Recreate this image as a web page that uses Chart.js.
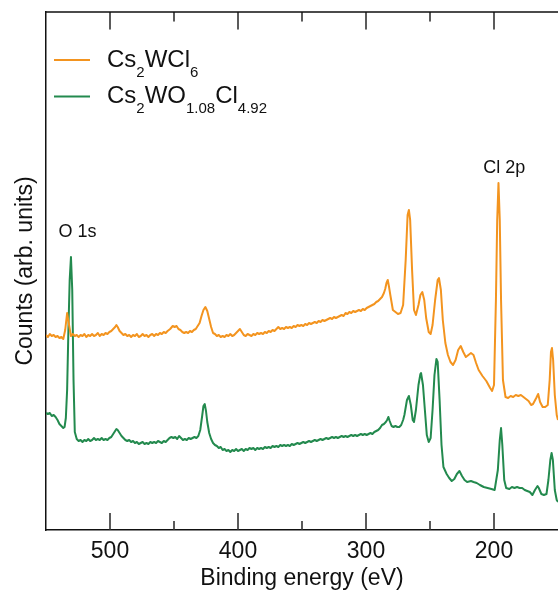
<!DOCTYPE html>
<html>
<head>
<meta charset="utf-8">
<script src="https://cdn.jsdelivr.net/npm/chart.js@4"></script>
</head>
<body style="margin:0; background:#fff">
<canvas id="c" width="558" height="592"></canvas>
<script>
// --- survey spectra: [binding energy (eV), counts (arb. units)] ---
const spectrumWCl6 = [
  [550,195],[548.5,193],[547,196],[545.5,194],[544,195],[542.5,193],[541,194],[539.5,192],[538,193],[536.5,191],
  [535,200],[533.5,217],[532,205],[530.5,194],[529,196],[527.5,194],[526,195],[524.5,193],[523,195],[521.5,194],
  [520,196],[518.5,193],[517,195],[515.5,194],[514,196],[512.5,194],[511,195],[509.5,197],[508,194],[506.5,196],
  [505,195],[503.5,197],[502,196],[500.5,198],[499,199],[497.5,201],[496,203],[495,205],[494,203],[492.5,199],
  [491,197],[489.5,195],[488,196],[486.5,194],[485,195],[483.5,193],[482,195],[480.5,194],[479,196],[477.5,193],
  [476,194],[474.5,196],[473,194],[471.5,195],[470,193],[468.5,195],[467,196],[465.5,194],[464,196],[462.5,195],
  [461,197],[459.5,196],[458,198],[456.5,197],[455,199],[453,201],[451,204],[449.5,203],[448,204],[446.5,201],
  [445,200],[443.5,198],[442,197],[440.5,198],[439,197],[437.5,199],[436,198],[434.5,200],[433,201],[431.5,204],
  [430,207],[428.5,214],[427,220],[425.5,223],[424,219],[422.5,211],[421,203],[419.5,197],[418,196],[416.5,194],
  [415,195],[413.5,193],[412,194],[410.5,193],[409,195],[407.5,194],[406,196],[404.5,194],[403,195],[401.5,197],
  [400,199],[398.5,201],[397,198],[395.5,195],[394,194],[392.5,196],[391,195],[389.5,194],[388,196],[386.5,195],
  [385,197],[383.5,196],[382,197],[380.5,196],[379,198],[377.5,197],[376,199],[374.5,198],[373,200],[371.5,199],
  [370,201],[368.5,203],[367,201],[365.5,202],[364,201],[362.5,203],[361,202],[359.5,203],[358,202],[356.5,204],
  [355,203],[353.5,205],[352,204],[350.5,205],[349,204],[347.5,206],[346,205],[344.5,207],[343,206],[341.5,207],
  [340,208],[338.5,207],[337,209],[335.5,208],[334,210],[332.5,209],[331,210],[329.5,211],[328,212],[326.5,211],
  [325,213],[323.5,212],[322,213],[320.5,214],[319,215],[317.5,214],[316,217],[314.5,216],[313,218],[311.5,217],
  [310,219],[308.5,218],[307,219],[305.5,220],[304,219],[302.5,221],[301,220],[299.5,222],[298,223],[296.5,224],
  [295,225],[293.5,226],[292,228],[290.5,229],[289,231],[287.5,233],[286,237],[285,241],[284,247],[283,250],
  [282,243],[281,235],[279,220],[277,218],[275,216],[273,217],[271,225],[269,270],[267.5,315],[266.5,320],
  [265.5,310],[264,260],[262.5,220],[261,215],[259,225],[257.5,235],[256,238],[254.5,230],[253,212],[251,198],
  [249.5,196],[248,205],[246,230],[244,250],[243,252],[241.5,240],[240,210],[238,187],[236,175],[234,168],
  [232,165],[230,170],[228,180],[226,184],[224,178],[222,173],[220,175],[218,177],[216,175],[214,167],
  [212,160],[209,154],[206,149],[203,142],[201.5,139],[200,145],[198.5,230],[197.5,310],[196.5,347],[195.5,310],
  [194.5,230],[193,150],[191,133],[189,132],[187,134],[185,133],[183,135],[181,134],[179,135],[177,133],
  [175,131],[173,129],[171,125],[169.5,126],[167,132],[165.5,136],[164,128],[162,123],[160,123],[158,125],
  [156.5,150],[155.5,178],[154.7,182],[153.8,170],[152.5,135],[151,115],[150,110]
];

const spectrumWOCl = [
  [550,117],[548.5,116],[547,117],[545.5,114],[544,115],[542.5,113],[541,110],[539.5,106],[538,104],[536.5,102],
  [535.5,103],[534.5,112],[533.5,140],[532.5,200],[531.5,250],[530.5,273],[529.5,240],[528.5,150],[527.5,98],[526,91],
  [524.5,89],[523,90],[521.5,88],[520,90],[518.5,89],[517,91],[515.5,89],[514,90],[512.5,92],[511,90],
  [509.5,91],[508,90],[506.5,92],[505,90],[503.5,91],[502,90],[500.5,92],[499,93],[497.5,96],[496,99],
  [495,101],[494,100],[492.5,97],[491,94],[489.5,92],[488,90],[486.5,89],[485,90],[483.5,88],[482,89],
  [480.5,87],[479,88],[477.5,86],[476,87],[474.5,88],[473,86],[471.5,87],[470,86],[468.5,88],[467,87],
  [465.5,88],[464,87],[462.5,89],[461,88],[459.5,87],[458,89],[456.5,88],[455,90],[453.5,92],[452,93],
  [450.5,92],[449,93],[447.5,91],[446,94],[444.5,92],[443,90],[441.5,91],[440,90],[438.5,92],[437,91],
  [435.5,92],[434,93],[432.5,92],[431,94],[429.5,100],[428,114],[427,124],[426,126],[425,119],[424,108],
  [422.5,97],[421,91],[419.5,87],[418,85],[416.5,84],[415,82],[413.5,83],[412,80],[410.5,81],[409,79],
  [407.5,80],[406,78],[404.5,80],[403,79],[401.5,81],[400,79],[398.5,80],[397,81],[395.5,79],[394,81],
  [392.5,80],[391,82],[389.5,81],[388,82],[386.5,80],[385,82],[383.5,81],[382,82],[380.5,81],[379,83],
  [377.5,82],[376,83],[374.5,82],[373,84],[371.5,83],[370,84],[368.5,83],[367,85],[365.5,84],[364,85],
  [362.5,84],[361,85],[359.5,84],[358,86],[356.5,85],[355,86],[353.5,87],[352,86],[350.5,87],[349,88],
  [347.5,87],[346,88],[344.5,89],[343,88],[341.5,89],[340,90],[338.5,89],[337,90],[335.5,91],[334,90],
  [332.5,91],[331,92],[329.5,91],[328,92],[326.5,93],[325,92],[323.5,93],[322,92],[320.5,93],[319,94],
  [317.5,93],[316,94],[314.5,93],[313,94],[311.5,95],[310,94],[308.5,95],[307,94],[305.5,95],[304,96],
  [302.5,95],[301,96],[299.5,95],[298,96],[296.5,97],[295,96],[293.5,98],[292,99],[290.5,100],[289,102],
  [287.5,105],[286,106],[284.5,108],[283.5,110],[282.5,113],[281.5,109],[280,104],[278.5,103],[277,104],[275.5,103],
  [274,103],[272.5,105],[271,110],[270,115],[268,130],[266.5,134],[265,125],[263.5,110],[262.5,108],[261,120],
  [259,145],[257.5,156],[257,157],[255.5,145],[254,120],[252.5,95],[251,88],[249.5,92],[248,120],[246.5,155],
  [245,171],[244,168],[242.5,130],[241,85],[239.5,63],[237,56],[235,52],[233,49],[231,51],[229,56],
  [227,59],[225,54],[223,50],[221,48],[218,49],[216,48],[213.5,47],[211,45],[208,43],[205,42],
  [202,41],[199.5,40],[197,60],[195.5,90],[194.5,102],[193.5,85],[192,50],[190.5,42],[188,41],[186,43],
  [184,42],[182,43],[180,42],[178,42],[176,40],[174,39],[172,38],[170,35],[168,40],[166,44],
  [165,42],[163,36],[161,35],[159,36],[157.5,50],[156,70],[155,77],[154,70],[152.5,40],[151,30],[150,28]
];

const seriesNames = [
  [['Cs', ''], ['2', 'sub'], ['WCl', ''], ['6', 'sub']],
  [['Cs', ''], ['2', 'sub'], ['WO', ''], ['1.08', 'sub'], ['Cl', ''], ['4.92', 'sub']]
];
const seriesColors = ['#f3941f', '#238a4e'];
const xTickLabels = [500, 400, 300, 200];
const xMinorTicks = [450, 350, 250];
// [text, energy of text centre, counts at text baseline]
const peakLabels = [['O 1s', 525.4, 293], ['Cl 2p', 192, 357]];

const FONT = '"Liberation Sans", Arial, Helvetica, sans-serif';
const Y_MAX = 518;

function toPoints(pairs) { return pairs.map(p => ({ x: p[0], y: p[1] })); }

// inward tick marks on the bottom and top axes, as broken line segments
function tickSegments(values, len) {
  const out = [];
  values.forEach(v => {
    out.push({ x: v, y: 0 }, { x: v, y: len }, { x: v, y: null });
    out.push({ x: v, y: Y_MAX }, { x: v, y: Y_MAX - len }, { x: v, y: null });
  });
  return out;
}

// top frame, legend with subscripts, peak labels
const decor = {
  id: 'decor',
  afterDraw(chart) {
    const ctx = chart.ctx, a = chart.chartArea;
    const sx = chart.scales.x, sy = chart.scales.y;
    ctx.save();
    ctx.fillStyle = '#111';
    ctx.fillRect(a.left, a.top - 0.75, a.right - a.left, 1.5);

    seriesNames.forEach((parts, i) => {
      const ly = 60 + i * 36.5;
      ctx.strokeStyle = seriesColors[i];
      ctx.lineWidth = 2;
      ctx.beginPath();
      ctx.moveTo(54, ly); ctx.lineTo(90, ly);
      ctx.stroke();
      let tx = 107;
      const base = ly + 6.5;
      ctx.fillStyle = '#111';
      ctx.textBaseline = 'alphabetic';
      ctx.textAlign = 'left';
      parts.forEach(([t, kind]) => {
        if (kind === 'sub') {
          ctx.font = '15px ' + FONT;
          ctx.fillText(t, tx, base + 10);
        } else {
          ctx.font = '24px ' + FONT;
          ctx.fillText(t, tx, base);
        }
        tx += ctx.measureText(t).width;
      });
    });

    ctx.font = '18px ' + FONT;
    ctx.fillStyle = '#111';
    ctx.textAlign = 'center';
    ctx.textBaseline = 'alphabetic';
    peakLabels.forEach(([t, e, v]) => {
      ctx.fillText(t, sx.getPixelForValue(e), sy.getPixelForValue(v));
    });
    ctx.restore();
  }
};

new Chart(document.getElementById('c'), {
  type: 'line',
  data: {
    datasets: [
      { label: 'Cs2WCl6', data: toPoints(spectrumWCl6), borderColor: seriesColors[0], borderWidth: 2 },
      { label: 'Cs2WO1.08Cl4.92', data: toPoints(spectrumWOCl), borderColor: seriesColors[1], borderWidth: 2 },
      { label: 'major ticks', data: tickSegments(xTickLabels, 17), borderColor: '#333', borderWidth: 1.6, spanGaps: false, borderCapStyle: 'butt' },
      { label: 'minor ticks', data: tickSegments(xMinorTicks, 9), borderColor: '#333', borderWidth: 1.6, spanGaps: false, borderCapStyle: 'butt' }
    ]
  },
  options: {
    responsive: false,
    animation: false,
    elements: {
      line: { tension: 0, borderJoinStyle: 'round' },
      point: { radius: 0 }
    },
    layout: { padding: { top: 12, right: 0, left: 0, bottom: 0 } },
    plugins: { legend: { display: false }, tooltip: { enabled: false } },
    scales: {
      x: {
        type: 'linear',
        min: 150, max: 550,
        reverse: true,
        grid: { display: false, drawTicks: false },
        border: { display: true, color: '#111', width: 1.5 },
        afterBuildTicks: s => { s.ticks = xTickLabels.map(v => ({ value: v })); },
        afterFit: s => { s.height = 62; },
        ticks: { color: '#111', font: { family: FONT, size: 23 }, padding: 8, maxRotation: 0 },
        title: { display: true, text: 'Binding energy (eV)', color: '#111', font: { family: FONT, size: 23 }, padding: 0 }
      },
      y: {
        min: 0, max: Y_MAX,
        grid: { display: false, drawTicks: false },
        border: { display: true, color: '#111', width: 1.5 },
        ticks: { display: false },
        afterFit: s => { s.width = 46; },
        title: { display: true, text: 'Counts (arb. units)', color: '#111', font: { family: FONT, size: 23 }, padding: { top: 12, bottom: 0 } }
      }
    }
  },
  plugins: [decor]
});
</script>
</body>
</html>
